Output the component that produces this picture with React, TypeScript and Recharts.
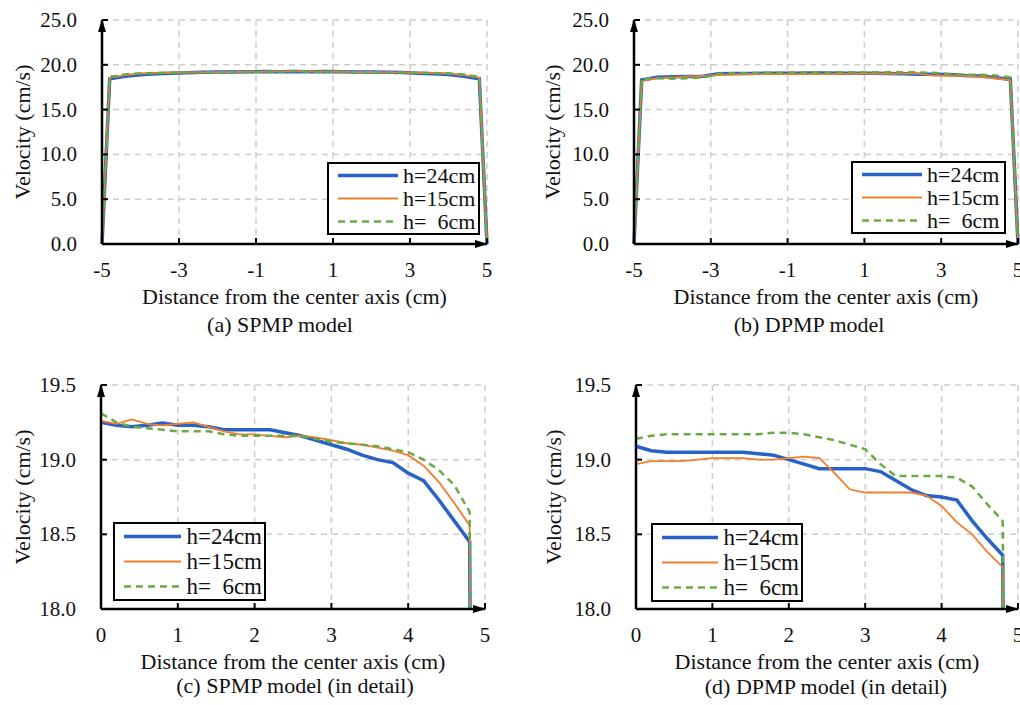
import React from 'react';
import { LineChart, Line, XAxis, YAxis, CartesianGrid, Legend } from 'recharts';

// ---------- data ----------
const xFull = [-5, -4.8, -4.4, -4.0, -3.6, -3.2, -2.8, -2.4, -2.0, -1.6, -1.2, -0.8, -0.4, 0, 0.4, 0.8, 1.2, 1.6, 2.0, 2.4, 2.8, 3.2, 3.6, 4.0, 4.4, 4.8, 5];

const spmpH24 = [0, 18.45, 18.72, 18.9, 19.0, 19.07, 19.12, 19.17, 19.2, 19.2, 19.22, 19.24, 19.22, 19.25, 19.22, 19.245, 19.23, 19.2, 19.2, 19.18, 19.13, 19.07, 19.0, 18.91, 18.73, 18.45, 0];
const spmpH15 = [0, 18.56, 18.85, 19.03, 19.08, 19.11, 19.15, 19.15, 19.17, 19.19, 19.25, 19.23, 19.27, 19.26, 19.27, 19.23, 19.25, 19.19, 19.17, 19.15, 19.15, 19.11, 19.08, 19.03, 18.85, 18.56, 0];
const spmpH6 = [0, 18.65, 18.93, 19.05, 19.09, 19.11, 19.14, 19.16, 19.16, 19.17, 19.19, 19.2, 19.22, 19.31, 19.22, 19.2, 19.19, 19.17, 19.16, 19.16, 19.14, 19.11, 19.09, 19.05, 18.93, 18.65, 0];

const dpmpH24 = [0, 18.3, 18.6, 18.68, 18.7, 18.72, 19.0, 19.03, 19.04, 19.05, 19.06, 19.07, 19.08, 19.09, 19.05, 19.05, 19.05, 19.04, 19.0, 18.94, 18.94, 18.92, 18.8, 18.75, 18.59, 18.36, 0];
const dpmpH15 = [0, 18.2, 18.5, 18.58, 18.7, 18.75, 18.85, 18.92, 18.95, 18.96, 18.97, 18.97, 18.97, 18.97, 18.99, 19.0, 19.01, 19.0, 19.01, 19.01, 18.8, 18.78, 18.78, 18.69, 18.5, 18.28, 0];
const dpmpH6 = [0, 18.4, 18.5, 18.45, 18.5, 18.6, 19.0, 19.05, 19.07, 19.1, 19.12, 19.13, 19.14, 19.14, 19.17, 19.17, 19.17, 19.17, 19.18, 19.15, 19.1, 18.97, 18.89, 18.89, 18.82, 18.59, 0];

const xDetail = [0, 0.2, 0.4, 0.6, 0.8, 1.0, 1.2, 1.4, 1.6, 1.8, 2.0, 2.2, 2.4, 2.6, 2.8, 3.0, 3.2, 3.4, 3.6, 3.8, 4.0, 4.2, 4.4, 4.6, 4.8, 5.0];

const spmpDetH24 = [19.25, 19.23, 19.22, 19.23, 19.245, 19.23, 19.23, 19.22, 19.2, 19.2, 19.2, 19.2, 19.18, 19.16, 19.13, 19.1, 19.07, 19.03, 19.0, 18.98, 18.91, 18.86, 18.73, 18.59, 18.45, 0];
const spmpDetH15 = [19.26, 19.24, 19.27, 19.24, 19.23, 19.24, 19.25, 19.22, 19.19, 19.17, 19.17, 19.16, 19.15, 19.16, 19.15, 19.13, 19.11, 19.1, 19.08, 19.06, 19.03, 18.96, 18.85, 18.71, 18.56, 0];
const spmpDetH6 = [19.31, 19.25, 19.22, 19.21, 19.2, 19.19, 19.19, 19.19, 19.17, 19.16, 19.16, 19.16, 19.16, 19.16, 19.14, 19.12, 19.11, 19.1, 19.09, 19.07, 19.05, 19.0, 18.93, 18.83, 18.65, 0];

const dpmpDetH24 = [19.09, 19.06, 19.05, 19.05, 19.05, 19.05, 19.05, 19.05, 19.04, 19.03, 19.0, 18.97, 18.94, 18.94, 18.94, 18.94, 18.92, 18.86, 18.8, 18.76, 18.75, 18.73, 18.59, 18.47, 18.36, 0];
const dpmpDetH15 = [18.97, 18.99, 18.99, 18.99, 19.0, 19.01, 19.01, 19.01, 19.0, 19.0, 19.01, 19.02, 19.01, 18.91, 18.8, 18.78, 18.78, 18.78, 18.78, 18.76, 18.69, 18.58, 18.5, 18.38, 18.28, 0];
const dpmpDetH6 = [19.14, 19.16, 19.17, 19.17, 19.17, 19.17, 19.17, 19.17, 19.17, 19.18, 19.18, 19.17, 19.15, 19.13, 19.1, 19.07, 18.97, 18.89, 18.89, 18.89, 18.89, 18.88, 18.82, 18.7, 18.59, 0];

const xTicksFull = [-5, -3, -1, 1, 3, 5];
const yTicksFull = [0, 5, 10, 15, 20, 25];
const xTicksDetail = [0, 1, 2, 3, 4, 5];
const yTicksDetail = [18, 18.5, 19, 19.5];

const seriesLabels = ['h=24cm', 'h=15cm', 'h=  6cm'];
const xTitle = 'Distance from the center axis (cm)';
const yTitle = 'Velocity (cm/s)';
const captions = ['(a) SPMP model', '(b) DPMP model', '(c) SPMP model (in detail)', '(d) DPMP model (in detail)'];

// ---------- styles ----------
const FONT = '"Liberation Serif", "Times New Roman", serif';
const SERIES_STYLE = [
  { key: 'h24', color: '#2862c6', width: 3.5, dash: undefined as string | undefined },
  { key: 'h15', color: '#f47c2a', width: 1.8, dash: undefined as string | undefined },
  { key: 'h6', color: '#6aaa45', width: 2.5, dash: '7 5' },
];

const build = (xs: number[], a: number[], b: number[], c: number[]) =>
  xs.map((x, i) => ({ x, h24: a[i], h15: b[i], h6: c[i] }));

const M = 26; // tick margin

const XTick = (props: any) => {
  const { x, y, payload } = props;
  return (
    <g>
      <line x1={x} x2={x} y1={y - M} y2={y - M - 6} stroke="#000" strokeWidth={2} />
      <text x={x} y={y} textAnchor="middle" dominantBaseline="central" fontSize={21} fill="#111" style={{ fontFamily: FONT }}>
        {String(payload.value)}
      </text>
    </g>
  );
};

const YTick = (props: any) => {
  const { x, y, payload } = props;
  return (
    <g>
      <line x1={x + 25} x2={x + 31} y1={y} y2={y} stroke="#000" strokeWidth={2} />
      <text x={x} y={y} textAnchor="end" dominantBaseline="central" fontSize={21} fill="#111" style={{ fontFamily: FONT }}>
        {Number(payload.value).toFixed(1)}
      </text>
    </g>
  );
};

const LegendBox = ({ fontSize, rowH }: { fontSize: number; rowH: number }) => (
  <div
    style={{
      border: '2px solid #000',
      background: '#fff',
      padding: '0 2px 0 9px',
      fontFamily: FONT,
      fontSize,
      lineHeight: rowH + 'px',
      color: '#111',
      boxSizing: 'border-box',
    }}
  >
    {SERIES_STYLE.map((s, i) => (
      <div key={s.key} style={{ display: 'flex', alignItems: 'center', whiteSpace: 'pre', height: rowH }}>
        <svg width={60} height={rowH} style={{ display: 'block' }}>
          <line x1={0} x2={60} y1={rowH / 2} y2={rowH / 2} stroke={s.color} strokeWidth={s.width} strokeDasharray={s.dash} />
        </svg>
        <span style={{ marginLeft: 5 }}>{seriesLabels[i]}</span>
      </div>
    ))}
  </div>
);

type PanelProps = {
  data: any[];
  left: number;
  top: number;
  height: number;
  xAxisHeight: number;
  yAxisWidth: number;
  marginTop: number;
  marginRight: number;
  xDomain: [number, number];
  yDomain: [number, number];
  xTicks: number[];
  yTicks: number[];
  yLabelOffset: number;
  legendPos: { left: number; top: number; width: number };
  legendFont: number;
  legendRow: number;
  clip: boolean;
};

const Panel = (p: PanelProps) => (
  <div style={{ position: 'absolute', left: p.left, top: p.top }}>
    <LineChart
      width={510}
      height={p.height}
      data={p.data}
      margin={{ top: p.marginTop, right: p.marginRight, left: 0, bottom: 0 }}
    >
      <CartesianGrid stroke="#cdcdcd" strokeWidth={1.5} strokeDasharray="6 5" />
      <XAxis
        dataKey="x"
        type="number"
        domain={p.xDomain}
        ticks={p.xTicks}
        interval={0}
        height={p.xAxisHeight}
        tickSize={0}
        tickMargin={M}
        tickLine={false}
        tick={<XTick />}
        axisLine={{ stroke: '#000', strokeWidth: 2.5, markerEnd: 'url(#arrowHead)' } as any}
        label={{ value: xTitle, position: 'insideTop', offset: 44, fontSize: 22, fill: '#111', style: { fontFamily: FONT } }}
      />
      <XAxis
        xAxisId="top"
        orientation="top"
        type="number"
        domain={p.xDomain}
        height={0}
        tick={false}
        tickLine={false}
        axisLine={{ stroke: '#000', strokeWidth: 2 }}
      />
      <YAxis
        type="number"
        domain={p.yDomain}
        ticks={p.yTicks}
        interval={0}
        allowDataOverflow={p.clip}
        width={p.yAxisWidth}
        tickSize={0}
        tickMargin={25}
        tickLine={false}
        tick={<YTick />}
        axisLine={{ stroke: '#000', strokeWidth: 2.5, markerStart: 'url(#arrowHead)' } as any}
        label={{ value: yTitle, angle: -90, position: 'insideLeft', offset: p.yLabelOffset, fontSize: 22, fill: '#111', style: { textAnchor: 'middle', fontFamily: FONT } }}
      />
      <YAxis
        yAxisId="right"
        orientation="right"
        type="number"
        domain={p.yDomain}
        width={0}
        tick={false}
        tickLine={false}
        axisLine={{ stroke: '#000', strokeWidth: 2 }}
      />
      {SERIES_STYLE.map((s) => (
        <Line
          key={s.key}
          type="linear"
          dataKey={s.key}
          stroke={s.color}
          strokeWidth={s.width}
          strokeDasharray={s.dash}
          dot={false}
          activeDot={false}
          isAnimationActive={false}
        />
      ))}
      <Legend
        layout="vertical"
        align="center"
        verticalAlign="middle"
        wrapperStyle={{ left: p.legendPos.left, top: p.legendPos.top, width: p.legendPos.width }}
        content={() => <LegendBox fontSize={p.legendFont} rowH={p.legendRow} />}
      />
    </LineChart>
  </div>
);

const Caption = ({ text, cx, cy }: { text: string; cx: number; cy: number }) => (
  <div
    style={{
      position: 'absolute',
      left: cx - 200,
      top: cy - 13,
      width: 400,
      height: 26,
      lineHeight: '26px',
      textAlign: 'center',
      fontFamily: FONT,
      fontSize: 22,
      color: '#111',
    }}
  >
    {text}
  </div>
);

export default function App() {
  const dA = build(xFull, spmpH24, spmpH15, spmpH6);
  const dB = build(xFull, dpmpH24, dpmpH15, dpmpH6);
  const dC = build(xDetail, spmpDetH24, spmpDetH15, spmpDetH6);
  const dD = build(xDetail, dpmpDetH24, dpmpDetH15, dpmpDetH6);
  return (
    <div style={{ position: 'absolute', left: 0, top: 0, width: 1020, height: 705, background: '#fff', overflow: 'hidden', fontFamily: FONT }}>
      <svg width={0} height={0} style={{ position: 'absolute' }}>
        <defs>
          <marker id="arrowHead" viewBox="0 0 13 8" markerWidth={13} markerHeight={8} refX={12} refY={4} orient="auto-start-reverse" markerUnits="userSpaceOnUse">
            <path d="M0,0 L13,4 L0,8 z" fill="#000" />
          </marker>
        </defs>
      </svg>
      <Panel data={dA} left={0} top={0} height={345} xAxisHeight={101} yAxisWidth={102} marginTop={20} marginRight={23}
        xDomain={[-5, 5]} yDomain={[0, 25]} xTicks={xTicksFull} yTicks={yTicksFull} yLabelOffset={22}
        legendPos={{ left: 327, top: 162, width: 153 }} legendFont={22} legendRow={23} clip={false} />
      <Panel data={dB} left={510} top={0} height={345} xAxisHeight={101} yAxisWidth={124} marginTop={20} marginRight={2}
        xDomain={[-5, 5]} yDomain={[0, 25]} xTicks={xTicksFull} yTicks={yTicksFull} yLabelOffset={42}
        legendPos={{ left: 341, top: 161, width: 155 }} legendFont={22} legendRow={23} clip={false} />
      <Panel data={dC} left={0} top={350} height={355} xAxisHeight={96} yAxisWidth={101} marginTop={35} marginRight={25}
        xDomain={[0, 5]} yDomain={[18, 19.5]} xTicks={xTicksDetail} yTicks={yTicksDetail} yLabelOffset={22}
        legendPos={{ left: 113, top: 172, width: 153 }} legendFont={23} legendRow={25} clip={true} />
      <Panel data={dD} left={510} top={350} height={355} xAxisHeight={96} yAxisWidth={126} marginTop={35} marginRight={2}
        xDomain={[0, 5]} yDomain={[18, 19.5]} xTicks={xTicksDetail} yTicks={yTicksDetail} yLabelOffset={43}
        legendPos={{ left: 141, top: 173, width: 152 }} legendFont={23} legendRow={25} clip={true} />
      <Caption text={captions[0]} cx={280} cy={325} />
      <Caption text={captions[1]} cx={809} cy={325} />
      <Caption text={captions[2]} cx={295} cy={686} />
      <Caption text={captions[3]} cx={826} cy={687} />
    </div>
  );
}
